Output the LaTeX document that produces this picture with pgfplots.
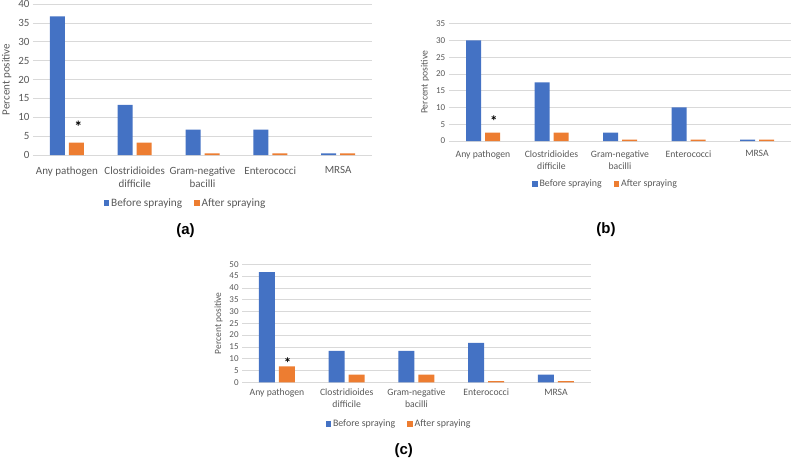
\documentclass[border=0pt]{standalone}
\usepackage{pgfplots}
\pgfplotsset{compat=1.18}
\usepackage{fontspec}
\setmainfont{Carlito}
\newfontfamily\labfont{Liberation Sans}
\definecolor{xblue}{HTML}{4472C4}
\definecolor{xorange}{HTML}{ED7D31}
\definecolor{xgrid}{HTML}{D9D9D9}
\definecolor{xtext}{HTML}{595959}
\pgfplotsset{
  panel/.style={
    scale only axis,
    ybar=4pt, bar width=#1,
    xmin=-0.5, xmax=4.5, ymin=0,
    enlargelimits=false,
    xtick={0,1,2,3,4},
    xticklabels={Any pathogen, Clostridioides\\difficile, Gram-negative\\bacilli, Enterococci, MRSA},
    xticklabel style={align=center, text=xtext},
    yticklabel style={text=xtext},
    /pgf/number format/assume math mode=true,
    axis x line*=bottom,
    axis y line*=left,
    y axis line style={draw=none},
    x axis line style={draw=xgrid, line width=0.8pt},
    major tick length=0pt,
    ymajorgrids, grid style={draw=xgrid, line width=0.6pt},
    ylabel={Percent positive},
    ylabel style={text=xtext},
    legend columns=2,
    legend style={draw=none, fill=none, text=xtext, /tikz/every even column/.append style={column sep=10pt}},
    legend image code/.code={\fill[##1] (0pt,-2.7pt) rectangle (5.4pt,2.7pt);},
  },
}
\begin{document}
\begin{tikzpicture}
\useasboundingbox (0pt,0pt) rectangle (791pt,459pt);
% Panel (a)
\begin{axis}[panel=15pt, at={(33pt,304pt)}, anchor=south west, width=339pt, height=151pt,
  ymax=40, ytick={0,5,...,40},
  font=\fontsize{11}{13.2}\selectfont,
  xticklabel style={yshift=-8pt},
  ylabel style={font=\fontsize{11}{13}\selectfont},
  legend style={at={(0.45,-0.318)}, anchor=center, font=\fontsize{11.3}{13}\selectfont}]
\addplot[fill=xblue, draw=none] coordinates {(0,36.7) (1,13.3) (2,6.7) (3,6.7) (4,0.4)};
\addplot[fill=xorange, draw=none] coordinates {(0,3.3) (1,3.3) (2,0.4) (3,0.4) (4,0.4)};
\legend{Before spraying, After spraying}
\node[text=black, font=\fontsize{16}{16}\selectfont\bfseries] at (axis cs:0.17,7.6) {*};
\end{axis}
% Panel (b)
\begin{axis}[panel=15pt, at={(448.75pt,318pt)}, anchor=south west, width=342.5pt, height=117.3pt,
  ymax=35, ytick={0,5,...,35},
  font=\fontsize{9.7}{11.8}\selectfont,
  xticklabel style={yshift=-6pt},
  yticklabel style={font=\fontsize{9}{11}\selectfont},
  ylabel style={font=\fontsize{9.7}{11}\selectfont},
  legend style={at={(0.458,-0.367)}, anchor=center, font=\fontsize{9.9}{11}\selectfont}]
\addplot[fill=xblue, draw=none] coordinates {(0,30) (1,17.5) (2,2.5) (3,10) (4,0.4)};
\addplot[fill=xorange, draw=none] coordinates {(0,2.5) (1,2.5) (2,0.4) (3,0.4) (4,0.4)};
\legend{Before spraying, After spraying}
\node[text=black, font=\fontsize{15}{15}\selectfont\bfseries] at (axis cs:0.16,5.9) {*};
\end{axis}
% Panel (c)
\begin{axis}[panel=16pt, at={(242.1pt,76.7pt)}, anchor=south west, width=348.75pt, height=118pt,
  ymax=50, ytick={0,5,...,50},
  font=\fontsize{9.7}{11.8}\selectfont,
  xticklabel style={yshift=-3pt},
  yticklabel style={font=\fontsize{9}{11}\selectfont},
  ylabel style={font=\fontsize{9.5}{11}\selectfont},
  legend style={at={(0.45,-0.353)}, anchor=center, font=\fontsize{9.9}{11}\selectfont}]
\addplot[fill=xblue, draw=none] coordinates {(0,46.7) (1,13.3) (2,13.3) (3,16.7) (4,3.3)};
\addplot[fill=xorange, draw=none] coordinates {(0,6.7) (1,3.3) (2,3.3) (3,0.5) (4,0.5)};
\legend{Before spraying, After spraying}
\node[text=black, font=\fontsize{15}{15}\selectfont\bfseries] at (axis cs:0.153,8.2) {*};
\end{axis}
\node[font=\labfont\fontsize{15}{18}\selectfont\bfseries] at (185.5pt,228.3pt) {(a)};
\node[font=\labfont\fontsize{15}{18}\selectfont\bfseries] at (606pt,229pt) {(b)};
\node[font=\labfont\fontsize{15}{18}\selectfont\bfseries] at (403.7pt,8.3pt) {(c)};
\end{tikzpicture}
\end{document}
